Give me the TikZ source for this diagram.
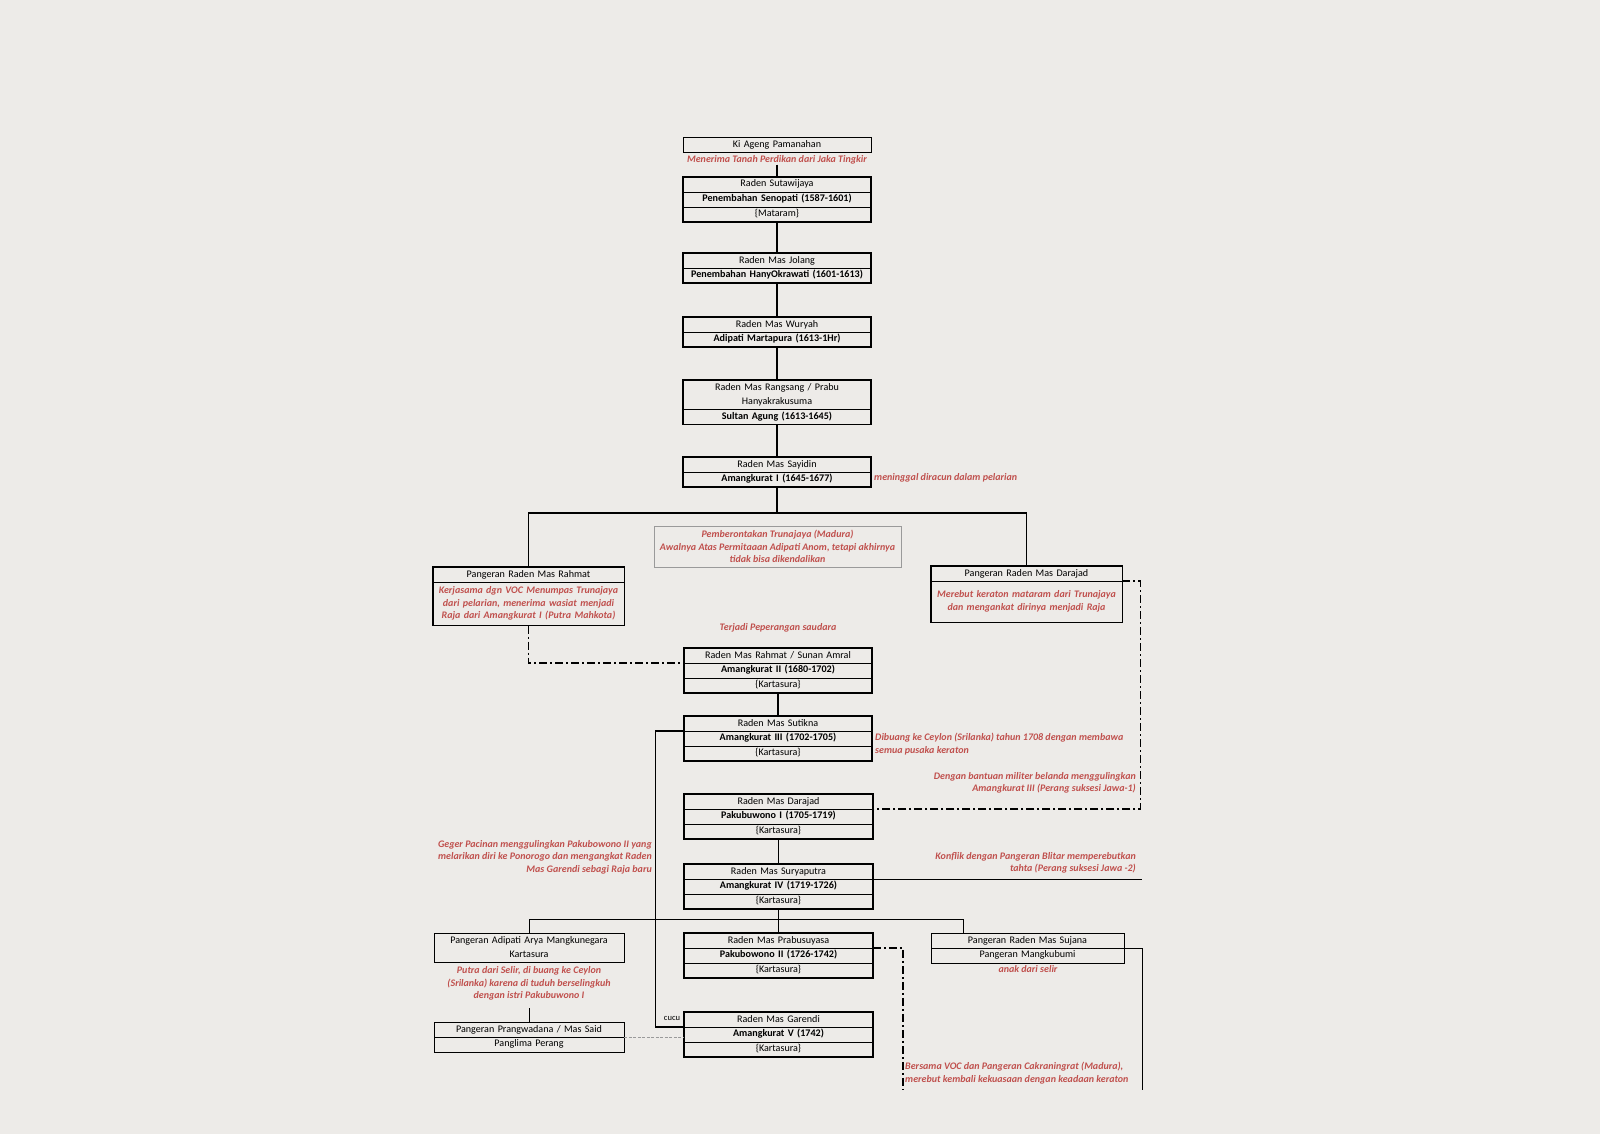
\documentclass[tikz,border=0pt]{standalone}
\usepackage{fontspec}
\setmainfont{Carlito}
\usetikzlibrary{shapes.multipart, calc}
\definecolor{matpaper}{HTML}{EDEBE8}
\definecolor{matred}{HTML}{C0504D}
\definecolor{matgray}{HTML}{9A9A9A}
\newcommand{\rowtxt}[1]{\rule[-2.7pt]{0pt}{10pt}#1}
\newcommand{\boxfont}{\fontsize{10.1}{14.3}\selectfont}
\newcommand{\notefont}{\fontsize{10}{12.6}\selectfont\bfseries\itshape}
\newcommand{\boxnote}[2]{\parbox[c][#1][c]{187pt}{\centering\notefont\color{matred}\begin{tabular}{@{}c@{}}#2\end{tabular}}}

\begin{document}
\begin{tikzpicture}[x=1pt, y=-1pt,
  famrows/.style={rectangle split, rectangle split parts=#1, draw, line width=0.7pt,
    text width=184pt, align=center, inner xsep=2pt, inner ysep=2pt,
    anchor=north, font=\boxfont},
  rimline/.style={append after command={\pgfextra{\draw[line width=#1]
    (\tikzlastnode.north west) rectangle (\tikzlastnode.south east);}}},
  kingbox/.style={famrows=#1, rimline=1.8pt},
  sidebox/.style={famrows=#1, text width=187pt, rimline=1.3pt},
  kinbox/.style={famrows=#1, line width=0.8pt},
  descent/.style={line width=1.8pt},
  branch/.style={line width=1.4pt},
  thinlink/.style={line width=0.8pt},
  rivalry/.style={line width=1.5pt, dash pattern=on 8pt off 3pt on 2pt off 3pt},
  kinlink/.style={line width=0.6pt, matgray, dash pattern=on 3pt off 1.5pt},
  noteText/.style={font=\notefont, text=matred, inner sep=0pt, align=center}
]
  % Paper
  \fill[matpaper] (0,0) rectangle (1600,1134);

  % Mataram line
  \node[kinbox=1] (kiageng) at (777,137) {\rowtxt{Ki Ageng Pamanahan}};
  \node[noteText, anchor=north] (kinote) at (777,155.5) {Menerima Tanah Perdikan dari Jaka Tingkir};
  \node[kingbox=3] (sutawijaya) at (777,177) {\rowtxt{Raden Sutawijaya}\nodepart{two}\rowtxt{\textbf{Penembahan Senopati (1587-1601)}}\nodepart{three}\rowtxt{\{Mataram\}}};
  \node[kingbox=2] (jolang) at (777,253) {\rowtxt{Raden Mas Jolang}\nodepart{two}\rowtxt{\textbf{Penembahan HanyOkrawati (1601-1613)}}};
  \node[kingbox=2] (wuryah) at (777,317) {\rowtxt{Raden Mas Wuryah}\nodepart{two}\rowtxt{\textbf{Adipati Martapura (1613-1Hr)}}};
  \node[kingbox=2] (rangsang) at (777,380) {\rowtxt{Raden Mas Rangsang / Prabu}\\\rowtxt{Hanyakrakusuma}\nodepart{two}\rowtxt{\textbf{Sultan Agung (1613-1645)}}};
  \node[kingbox=2] (sayidin) at (777,457) {\rowtxt{Raden Mas Sayidin}\nodepart{two}\rowtxt{\textbf{Amangkurat I (1645-1677)}}};
  \node[noteText, anchor=north west] (sayidinnote) at (874,473.5) {meninggal diracun dalam pelarian};

  \draw[descent] (kinote.south) -- (sutawijaya.north);
  \draw[descent] (sutawijaya.south) -- (jolang.north);
  \draw[descent] (jolang.south) -- (wuryah.north);
  \draw[descent] (wuryah.south) -- (rangsang.north);
  \draw[descent] (rangsang.south) -- (sayidin.north);

  % Trunajaya revolt
  \coordinate (fork1) at (777,513);
  \node[draw=matgray, line width=0.6pt, minimum width=247pt, minimum height=41pt, inner sep=0pt,
    align=center, font=\notefont, text=matred] (trunajaya) at (777.5,546.5)
    {Pemberontakan Trunajaya (Madura)\\Awalnya Atas Permitaaan Adipati Anom, tetapi akhirnya\\tidak bisa dikendalikan};
  \node[sidebox=2] (rahmat) at (528.5,567) {\rowtxt{Pangeran Raden Mas Rahmat}\nodepart{two}\boxnote{38.6pt}{Kerjasama dgn VOC Menumpas Trunajaya\\dari pelarian, menerima wasiat menjadi\\Raja dari Amangkurat I (Putra Mahkota)}};
  \node[sidebox=2] (darajad) at (1026.5,566) {\rowtxt{Pangeran Raden Mas Darajad}\nodepart{two}\boxnote{36.6pt}{Merebut keraton mataram dari Trunajaya\\dan mengankat dirinya menjadi Raja}};

  \draw[descent] (sayidin.south) -- (fork1);
  \draw[branch] (rahmat.north) -- (rahmat.north |- fork1) -- (darajad.north |- fork1) -- (darajad.north);

  % Kartasura
  \node[noteText, anchor=north] (perangnote) at (778,623.5) {Terjadi Peperangan saudara};
  \node[kingbox=3] (amral) at (778,648) {\rowtxt{Raden Mas Rahmat / Sunan Amral}\nodepart{two}\rowtxt{\textbf{Amangkurat II (1680-1702)}}\nodepart{three}\rowtxt{\{Kartasura\}}};
  \node[kingbox=3] (sutikna) at (778,716) {\rowtxt{Raden Mas Sutikna}\nodepart{two}\rowtxt{\textbf{Amangkurat III (1702-1705)}}\nodepart{three}\rowtxt{\{Kartasura\}}};
  \node[noteText, anchor=north west, align=left] (sutiknanote) at (875,733) {Dibuang ke Ceylon (Srilanka) tahun 1708 dengan membawa\\semua pusaka keraton};
  \node[kingbox=3] (pbsatu) at (778.5,794) {\rowtxt{Raden Mas Darajad}\nodepart{two}\rowtxt{\textbf{Pakubuwono I (1705-1719)}}\nodepart{three}\rowtxt{\{Kartasura\}}};
  \node[noteText, anchor=north east, align=right] (pbsatunote) at (1136,772) {Dengan bantuan militer belanda menggulingkan\\Amangkurat III (Perang suksesi Jawa-1)};
  \node[kingbox=3] (suryaputra) at (778.5,864) {\rowtxt{Raden Mas Suryaputra}\nodepart{two}\rowtxt{\textbf{Amangkurat IV (1719-1726)}}\nodepart{three}\rowtxt{\{Kartasura\}}};
  \node[noteText, anchor=north east, align=right] (konfliknote) at (1136,852) {Konflik dengan Pangeran Blitar memperebutkan\\tahta (Perang suksesi Jawa -2)};
  \node[noteText, anchor=north east, align=right] (gegernote) at (652,840) {Geger Pacinan menggulingkan Pakubowono II yang\\melarikan diri ke Ponorogo dan mengangkat Raden\\Mas Garendi sebagi Raja baru};

  \draw[rivalry] (rahmat.south) |- (amral.text split west);
  \draw[descent] (amral.south) -- (sutikna.north);
  \draw[rivalry] (darajad.text split east) -- ++(18,0) |- (pbsatu.text split east);
  \draw[descent] (pbsatu.south) -- (suryaputra.north);
  \coordinate (konflikend) at (1142,878);
  \draw[thinlink] (suryaputra.text split east) -- (suryaputra.text split east -| konflikend);

  % Children of Amangkurat IV
  \coordinate (fork2) at (778.5,919);
  \coordinate (sujanadrop) at (963,919);
  \node[kingbox=3] (prabusuyasa) at (778.5,933) {\rowtxt{Raden Mas Prabusuyasa}\nodepart{two}\rowtxt{\textbf{Pakubowono II (1726-1742)}}\nodepart{three}\rowtxt{\{Kartasura\}}};
  \node[kinbox=1, text width=186pt] (mangkunegara) at (529,933) {\rowtxt{Pangeran Adipati Arya Mangkunegara}\\\rowtxt{Kartasura}};
  \node[noteText, anchor=north] (mknote) at (529,966.5) {Putra dari Selir, di buang ke Ceylon\\(Srilanka) karena di tuduh berselingkuh\\dengan istri Pakubuwono I};
  \node[kinbox=2, text width=186pt] (prangwadana) at (529,1022) {\rowtxt{Pangeran Prangwadana / Mas Said}\nodepart{two}\rowtxt{Panglima Perang}};
  \node[kinbox=2, text width=189pt] (sujana) at (1027.5,933) {\rowtxt{Pangeran Raden Mas Sujana}\nodepart{two}\rowtxt{Pangeran Mangkubumi}};
  \node[noteText, anchor=north] (sujananote) at (1028,965.5) {anak dari selir};
  \node[kingbox=3] (garendi) at (778.5,1012) {\rowtxt{Raden Mas Garendi}\nodepart{two}\rowtxt{\textbf{Amangkurat V (1742)}}\nodepart{three}\rowtxt{\{Kartasura\}}};
  \node[font=\fontsize{8.5}{10}\selectfont, inner sep=0pt] (cucu) at (672,1018) {cucu};
  \node[noteText, anchor=north west, align=left] (bersamanote) at (905,1062) {Bersama VOC dan Pangeran Cakraningrat (Madura),\\merebut kembali kekuasaan dengan keadaan keraton};

  \draw[descent] (suryaputra.south) -- (prabusuyasa.north);
  \draw[thinlink] (mangkunegara.north) |- (sujanadrop) -- (sujanadrop |- sujana.north);
  \draw[branch] (sutikna.text split west) -- ++(-28,0) |- (garendi.text split west);
  \draw[thinlink] (prangwadana.north) -- ++(0,-14);
  \draw[kinlink] (prangwadana.text split east) -- (prangwadana.text split east -| garendi.west);
  \coordinate (pbduaend) at (903,1090);
  \draw[rivalry] (prabusuyasa.text split east) -| (pbduaend);
  \coordinate (sujanaend) at (1142,1090);
  \draw[thinlink] (sujana.text split east) -| (sujanaend);
\end{tikzpicture}
\end{document}
